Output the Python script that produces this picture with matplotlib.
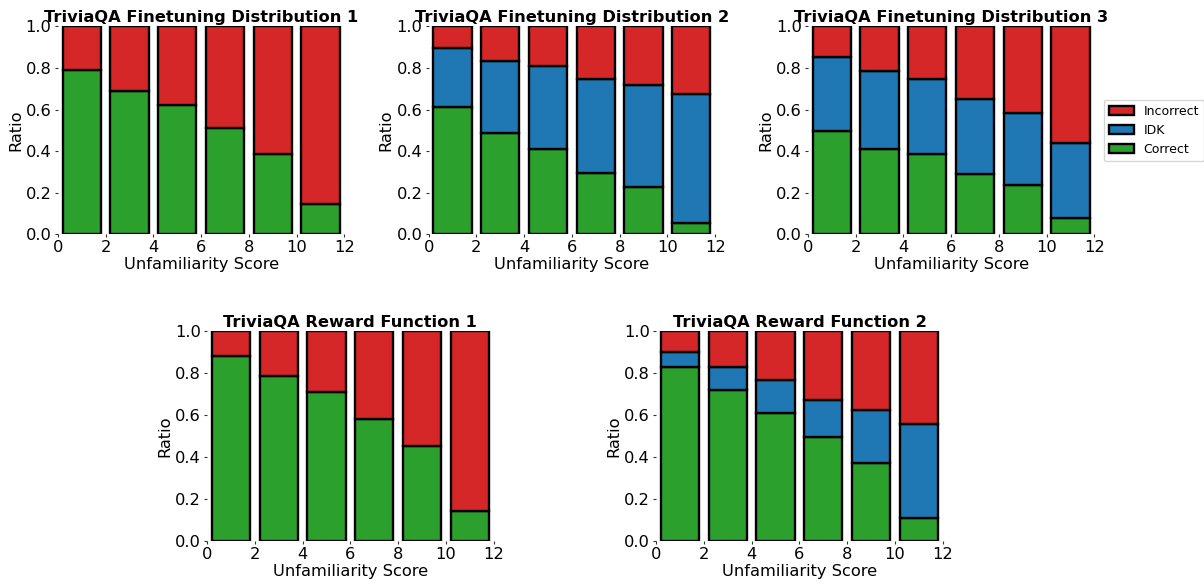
import matplotlib.pyplot as plt
import numpy as np

# bin centres on the unfamiliarity axis
scores = np.array([1, 3, 5, 7, 9, 11])

# Finetuning distribution 1 (no IDK)
ft1_correct = [0.79, 0.69, 0.62, 0.51, 0.385, 0.145]
ft1_idk = [0, 0, 0, 0, 0, 0]

# Finetuning distribution 2
ft2_correct = [0.61, 0.485, 0.41, 0.295, 0.225, 0.055]
ft2_idk = [0.285, 0.35, 0.40, 0.45, 0.495, 0.62]

# Finetuning distribution 3
ft3_correct = [0.495, 0.41, 0.385, 0.29, 0.235, 0.08]
ft3_idk = [0.36, 0.375, 0.36, 0.36, 0.35, 0.36]

# Reward function 1 (no IDK)
rf1_correct = [0.88, 0.785, 0.71, 0.58, 0.455, 0.145]
rf1_idk = [0, 0, 0, 0, 0, 0]

# Reward function 2
rf2_correct = [0.83, 0.72, 0.61, 0.495, 0.37, 0.11]
rf2_idk = [0.07, 0.11, 0.155, 0.175, 0.255, 0.45]

titles = ["TriviaQA Finetuning Distribution 1", "TriviaQA Finetuning Distribution 2",
          "TriviaQA Finetuning Distribution 3", "TriviaQA Reward Function 1",
          "TriviaQA Reward Function 2"]
data = [(ft1_correct, ft1_idk), (ft2_correct, ft2_idk), (ft3_correct, ft3_idk),
        (rf1_correct, rf1_idk), (rf2_correct, rf2_idk)]

green = '#2ca02c'
blue = '#1f77b4'
red = '#d62728'

fig = plt.figure(figsize=(12.04, 5.87), dpi=100)
positions = [
    [0.048, 0.601, 0.238, 0.354],
    [0.356, 0.601, 0.238, 0.354],
    [0.671, 0.601, 0.238, 0.354],
    [0.172, 0.078, 0.238, 0.358],
    [0.545, 0.078, 0.238, 0.358],
]

fs = 11.7
for i in range(5):
    ax = fig.add_axes(positions[i])
    correct = np.array(data[i][0])
    idk = np.array(data[i][1])
    incorrect = 1 - correct - idk
    ax.bar(scores, correct, width=1.6, color=green, edgecolor='black', linewidth=1.7, label='Correct')
    if idk.sum() > 0:
        ax.bar(scores, idk, width=1.6, bottom=correct, color=blue, edgecolor='black', linewidth=1.7, label='IDK')
    ax.bar(scores, incorrect, width=1.6, bottom=correct + idk, color=red, edgecolor='black', linewidth=1.7, label='Incorrect')
    ax.set_xlim(0, 12)
    ax.set_ylim(0, 1)
    ax.set_xticks([0, 2, 4, 6, 8, 10, 12])
    ax.set_yticks([0.0, 0.2, 0.4, 0.6, 0.8, 1.0])
    ax.tick_params(labelsize=fs, length=2.5, pad=2, color='#333333')
    for s in ax.spines.values():
        s.set_visible(False)
    ax.set_xlabel("Unfamiliarity Score", fontsize=fs, labelpad=1)
    ax.set_ylabel("Ratio", fontsize=fs, labelpad=2)
    ax.set_title(titles[i], fontsize=fs, fontweight='bold', pad=3)
    if i == 2:
        h, l = ax.get_legend_handles_labels()
        ax.legend(h[::-1], l[::-1], loc='center left', bbox_to_anchor=(1.01, 0.5), fontsize=9)

plt.savefig("out.png", dpi=100)
